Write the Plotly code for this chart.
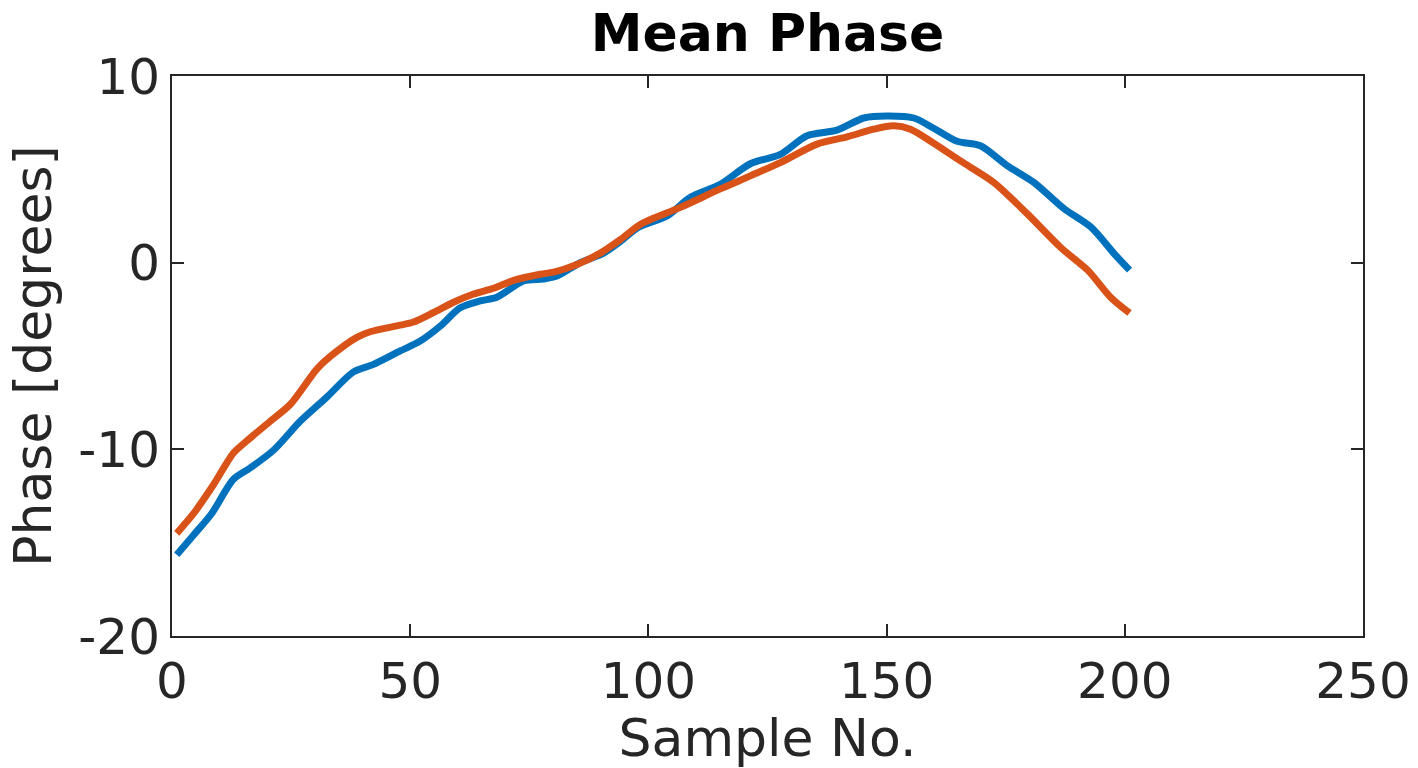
import plotly.graph_objects as go

# Blue series
blue_x = [1, 4.5, 8.3, 12.9, 16.4, 21.3, 26.9, 32.5, 38.1, 42.3, 47.9, 52.1, 56.3, 60.5, 64.7,
          68.2, 73.8, 78, 80.8, 85.7, 90.6, 94.1, 97.6, 103.9, 108.8, 115.1, 121.4, 127.7, 133.3,
          139.6, 145.2, 150.1, 155.7, 159.9, 164.8, 169.7, 175.3, 180.9, 187.2, 192.9, 197.7, 201]
blue_y = [-15.65, -14.6, -13.45, -11.6, -11.0, -10.05, -8.5, -7.2, -5.85, -5.45, -4.73, -4.2, -3.4,
          -2.42, -2.05, -1.85, -0.98, -0.88, -0.72, 0.0, 0.51, 1.13, 1.85, 2.5, 3.5, 4.2, 5.3, 5.8,
          6.8, 7.1, 7.75, 7.86, 7.75, 7.2, 6.5, 6.26, 5.2, 4.3, 2.9, 1.9, 0.5, -0.4]

# Orange series
orange_x = [1, 4.5, 8.7, 12.9, 15.7, 20.6, 24.8, 30.4, 33.2, 38.8, 41.6, 47.9, 50.7, 54.9, 59.1,
            63.3, 67.5, 71.7, 77.3, 80.1, 85, 89.9, 94.1, 98.3, 106.7, 115.1, 121.4, 127.7, 135.4,
            141.7, 147.3, 151.5, 155, 159.9, 165.5, 172.5, 179.6, 186.6, 192.2, 197, 201]
orange_y = [-14.5, -13.45, -11.9, -10.2, -9.55, -8.5, -7.6, -5.7, -5.03, -4.0, -3.7, -3.35, -3.18,
            -2.67, -2.12, -1.68, -1.37, -0.95, -0.62, -0.51, -0.1, 0.51, 1.23, 2.05, 2.96, 3.95,
            4.65, 5.36, 6.35, 6.74, 7.15, 7.33, 7.15, 6.4, 5.45, 4.3, 2.6, 0.8, -0.4, -1.85, -2.7]

x_ticks = [0, 50, 100, 150, 200, 250]
y_ticks = [-20, -10, 0, 10]

FONT = "DejaVu Sans"
AX = "#262626"

fig = go.Figure()
fig.add_trace(go.Scatter(x=blue_x, y=blue_y, mode="lines",
                         line=dict(color="#0072BD", width=7, shape="spline", smoothing=0.8),
                         showlegend=False))
fig.add_trace(go.Scatter(x=orange_x, y=orange_y, mode="lines",
                         line=dict(color="#D95319", width=7, shape="spline", smoothing=0.8),
                         showlegend=False))

axis_common = dict(showline=True, linecolor=AX, linewidth=2, mirror="ticks",
                   ticks="inside", ticklen=12, tickwidth=2, tickcolor=AX,
                   showgrid=False, zeroline=False, automargin=False,
                   tickfont=dict(family=FONT, size=50, color=AX))

fig.update_xaxes(range=[0, 250], tickvals=x_ticks, ticktext=[str(v) for v in x_ticks],
                 title=dict(text="Sample No.", font=dict(family=FONT, size=52, color=AX), standoff=10),
                 **axis_common)
fig.update_yaxes(range=[-20, 10], tickvals=y_ticks, ticktext=[str(v) for v in y_ticks],
                 title=dict(text="Phase [degrees]", font=dict(family=FONT, size=52, color=AX), standoff=10),
                 **axis_common)

fig.update_layout(
    width=1418, height=768,
    margin=dict(l=172, r=55, t=76, b=132),
    paper_bgcolor="white", plot_bgcolor="white",
    title=dict(text="<b>Mean Phase</b>", x=(172 + 1363) / 2 / 1418, xanchor="center",
               y=1 - 33 / 768, yanchor="middle",
               font=dict(family=FONT, size=52, color="black")),
)

fig.write_html("out.html")
